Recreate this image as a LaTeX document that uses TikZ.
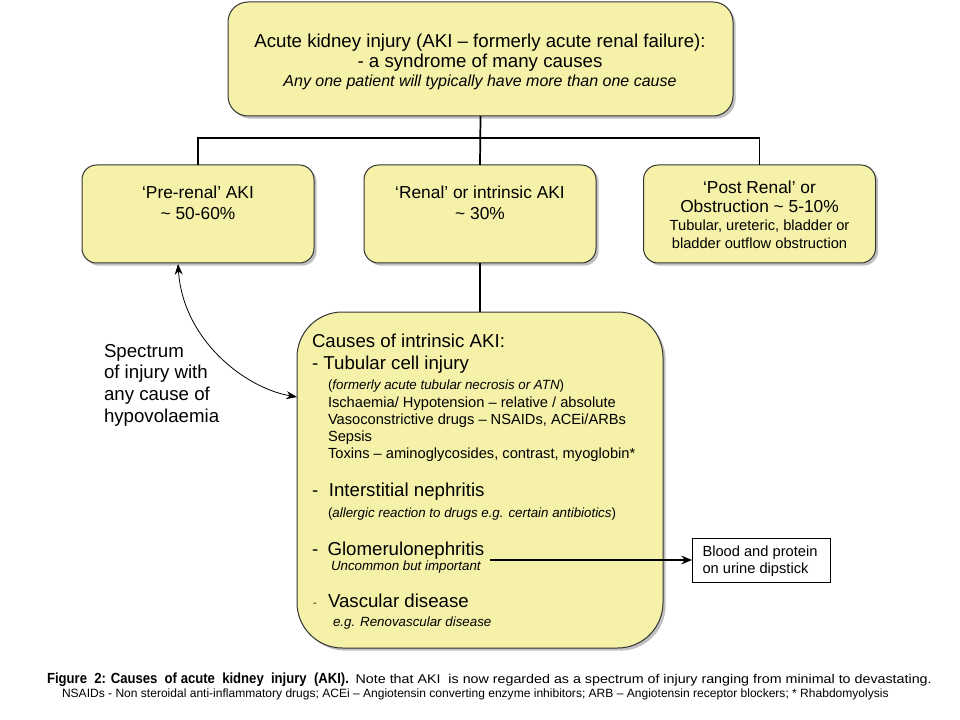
\documentclass[tikz,border=0pt]{standalone}
\usepackage{fontspec}
\setmainfont{Liberation Sans}
\usetikzlibrary{shadows,arrows.meta}
\definecolor{boxfill}{RGB}{245,241,169}
\begin{document}
\begin{tikzpicture}[x=0.75pt,y=-0.75pt,
  every node/.style={inner sep=0pt, outer sep=0pt},
  box/.style={draw=black!80, line width=0.75pt, fill=boxfill, rounded corners=11pt,
     drop shadow={shadow xshift=2pt, shadow yshift=-2pt, opacity=0.35, fill=black!70}},
  conn/.style={line width=1.3pt, black},
  big/.style={font=\fontsize{14}{16}\selectfont},
  boxt/.style={font=\fontsize{13}{15.5}\selectfont},
  mid/.style={font=\fontsize{11}{13}\selectfont},
  sml/.style={font=\fontsize{10}{11}\selectfont},
  ln/.style={anchor=base west}
]
\useasboundingbox (0,0) rectangle (960,720);
\fill[white] (0,0) rectangle (960,720);

% boxes
\node[box, rounded corners=15pt, minimum width=378.75pt, minimum height=85.5pt] (top) at (480.5,59) {};
\node[box, minimum width=174pt, minimum height=73.5pt] (pre) at (198,214) {};
\node[box, minimum width=174pt, minimum height=73.5pt] (renal) at (480,214) {};
\node[box, minimum width=174pt, minimum height=73.5pt] (post) at (759.5,214) {};
\node[box, rounded corners=34pt, minimum width=274.5pt, minimum height=252pt] (causes) at (480,480) {};
\node[draw=black, line width=0.75pt, fill=white, minimum width=103.5pt, minimum height=33pt] (blood) at (761,560) {};

% box texts
\node[big, align=center] (toptxt) at (480,62) {Acute kidney injury (AKI – formerly acute renal failure):\\[-1pt] - a syndrome of many causes\\[-2pt] {\fontsize{12}{13}\selectfont\itshape Any one patient will typically have more than one cause}};
\node[boxt, align=center] (pretxt) at (198,203) {‘Pre-renal’ AKI\\[0pt] \textasciitilde{} 50-60\%};
\node[boxt, align=center] (renaltxt) at (480,203) {‘Renal’ or intrinsic AKI\\[0pt] \textasciitilde{} 30\%};
\node[boxt, align=center] (posttxt) at (759.5,215) {‘Post Renal’ or\\[-1pt] Obstruction \textasciitilde{} 5-10\%\\[-2pt] {\fontsize{11}{12}\selectfont Tubular, ureteric, bladder or}\\[-2pt] {\fontsize{11}{12}\selectfont bladder outflow obstruction}};
\node[mid, align=left] (bloodtxt) at (760,561) {Blood and protein\\[0pt] on urine dipstick};

% causes text
\node[big, ln] (c1) at (312,347) {Causes of intrinsic AKI:};
\node[big, ln] (c2) at (312,369) {- Tubular cell injury};
\node[sml, ln] (c3) at (328,389) {(\textit{formerly acute tubular necrosis or ATN})};
\node[mid, ln] (c4) at (328,407) {Ischaemia/ Hypotension – relative / absolute};
\node[mid, ln] (c5) at (328,424) {Vasoconstrictive drugs – NSAIDs, ACEi/ARBs};
\node[mid, ln] (c6) at (328,441) {Sepsis};
\node[mid, ln] (c7) at (328,458) {Toxins – aminoglycosides, contrast, myoglobin*};
\node[big, ln] (c8) at (312,496) {-\hspace{8pt}Interstitial nephritis};
\node[sml, ln] (c9) at (328,517) {(\textit{allergic reaction to drugs e.g. certain antibiotics})};
\node[big, ln] (c10) at (312,555) {-\hspace{7pt}Glomerulonephritis};
\node[sml, ln, font=\fontsize{10}{11}\selectfont\itshape] (c11) at (331,570) {Uncommon but important};
\node[sml, ln, font=\fontsize{8}{9}\selectfont] (c12) at (313,606) {-};
\node[big, ln] (c13) at (328,607) {Vascular disease};
\node[sml, ln, font=\fontsize{10}{11}\selectfont\itshape] (c14) at (333,626) {e.g. Renovascular disease};

% spectrum text
\node[big, ln] (s1) at (104,357) {Spectrum};
\node[big, ln] (s2) at (104,378) {of injury with};
\node[big, ln] (s3) at (104,400) {any cause of};
\node[big, ln] (s4) at (104,422) {hypovolaemia};

% connectors
\draw[conn] (top.south) -- (renal.north);
\draw[conn] (pre.north) -- ++(0,-27) -| (post.north);
\draw[conn] (renal.south) -- (causes.north);

\coordinate (gl) at (490,560);
\draw[line width=0.8pt, -{Stealth[length=8pt,width=6.5pt]}] (gl) -- (blood.west);

\coordinate (pa) at (178,264);
\coordinate (pb) at (297,397);
\draw[line width=0.6pt, {Stealth[length=8pt,width=6pt]}-{Stealth[length=8pt,width=6pt]}] (pa) .. controls (183,340) and (245,388) .. (pb);

% caption
\node[ln] (cap1) at (47,683) {\resizebox{226.5pt}{\height}{\fontsize{11}{12}\selectfont\bfseries Figure\ \ 2: Causes\ \ of acute\ \ kidney\ \ injury\ \ (AKI).}\hspace{5pt}\resizebox{432pt}{\height}{\fontsize{9.5}{10}\selectfont Note that AKI\ \ is now regarded as a spectrum of injury ranging from minimal to devastating.}};
\node[ln] (cap2) at (62,697) {\resizebox{620pt}{\height}{\fontsize{9}{10}\selectfont NSAIDs - Non steroidal anti-inflammatory drugs; ACEi – Angiotensin converting enzyme inhibitors; ARB – Angiotensin receptor blockers; * Rhabdomyolysis}};
\end{tikzpicture}
\end{document}
